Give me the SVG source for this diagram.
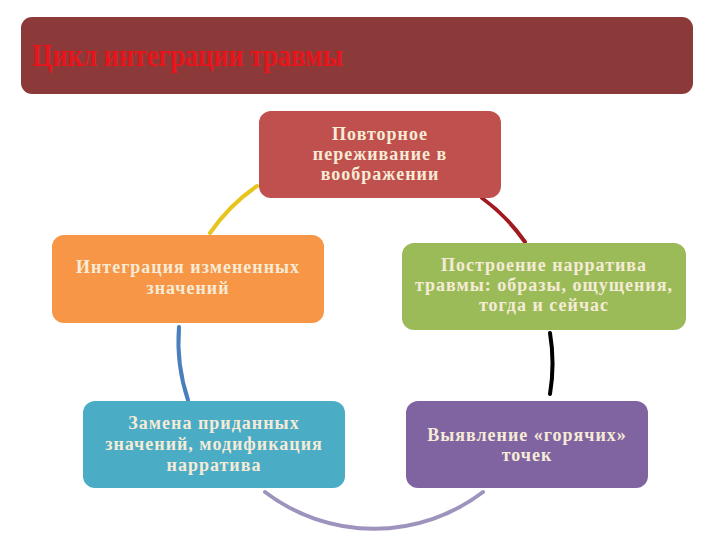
<svg xmlns="http://www.w3.org/2000/svg" width="720" height="540" viewBox="0 0 720 540">
<style>
.lbl{font-family:"Liberation Serif","DejaVu Serif",serif;font-weight:bold;font-size:18px;fill:#f5ebd6;text-anchor:middle;letter-spacing:1px}
.title{font-family:"Liberation Serif","DejaVu Serif",serif;font-weight:bold;font-size:32px;fill:#e8141b}
.arc{fill:none;stroke-width:4;stroke-linecap:round}
</style>
<rect width="720" height="540" fill="#ffffff"/>
<g id="title">
<rect x="21" y="17" width="672" height="77" rx="11" fill="#8c3a39"/>
<text class="title" x="32" y="66" textLength="311" lengthAdjust="spacingAndGlyphs">Цикл интеграции травмы</text>
</g>
<g id="connectors">
<path class="arc" stroke="#e6c61e" d="M210,233 A185,185 0 0 1 257,186"/>
<path class="arc" stroke="#a11a20" d="M482,198 A185,185 0 0 1 525,242"/>
<path class="arc" stroke="#000000" d="M550,333 A185,185 0 0 1 550,394"/>
<path class="arc" stroke="#9d93bd" d="M483,492 A180,180 0 0 1 265,492"/>
<path class="arc" stroke="#4a7fbd" d="M188,400 A185,185 0 0 1 179,327"/>
</g>
<g id="n1">
<rect x="259" y="111" width="242" height="87" rx="12" fill="#c0504d"/>
<text class="lbl" x="380" y="140">Повторное</text>
<text class="lbl" x="380" y="160">переживание в</text>
<text class="lbl" x="380" y="180">воображении</text>
</g>
<g id="n2">
<rect x="402" y="243" width="284" height="87" rx="12" fill="#9bbb59"/>
<text class="lbl" x="544" y="271">Построение нарратива</text>
<text class="lbl" x="544" y="291">травмы: образы, ощущения,</text>
<text class="lbl" x="544" y="311">тогда и сейчас</text>
</g>
<g id="n3">
<rect x="406" y="401" width="242" height="87" rx="12" fill="#8064a2"/>
<text class="lbl" x="527" y="441">Выявление «горячих»</text>
<text class="lbl" x="527" y="461">точек</text>
</g>
<g id="n4">
<rect x="83" y="401" width="262" height="87" rx="12" fill="#4bacc6"/>
<text class="lbl" x="214" y="429">Замена приданных</text>
<text class="lbl" x="214" y="450">значений, модификация</text>
<text class="lbl" x="214" y="471">нарратива</text>
</g>
<g id="n5">
<rect x="52" y="235" width="272" height="88" rx="12" fill="#f79646"/>
<text class="lbl" x="188" y="273">Интеграция измененных</text>
<text class="lbl" x="188" y="294">значений</text>
</g>
</svg>
